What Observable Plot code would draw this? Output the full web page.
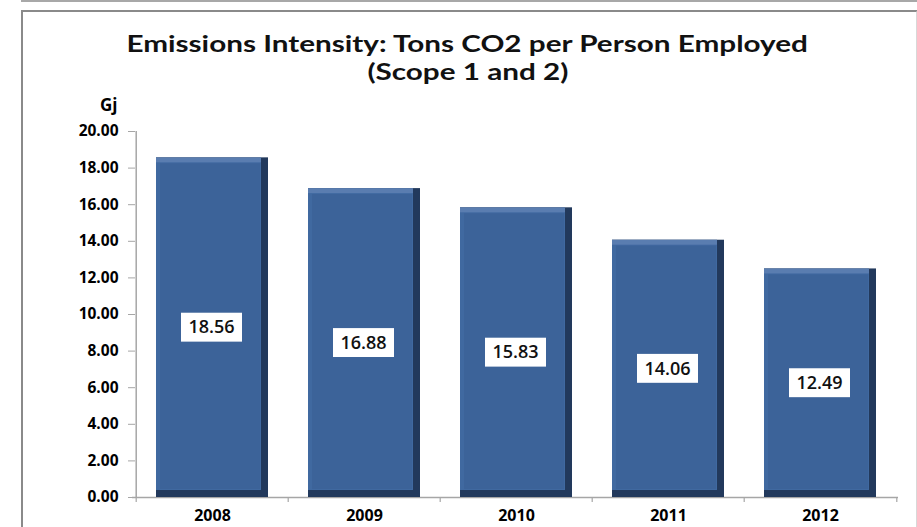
<!DOCTYPE html>
<html>
<head>
<meta charset="utf-8">
<script src="https://cdn.jsdelivr.net/npm/d3@7"></script>
<script src="https://cdn.jsdelivr.net/npm/@observablehq/plot@0.6"></script>
<style>
  html, body { margin: 0; padding: 0; background: #fff; }
  #wrap { position: relative; width: 917px; height: 527px; overflow: hidden; font-family: "Open Sans", Lato, sans-serif; color: #000; }
  #topline { position: absolute; left: 21px; right: 0; top: 0; height: 0; border-top: 2px solid #a8a8a8; }
  #frame { position: absolute; left: 21px; top: 10px; width: 893px; height: 600px; border: 2px solid #8a8a8a; border-right-color: #d8d8d8; }
  #title { position: relative; box-sizing: border-box; height: 88px; padding-top: 29px; padding-left: 18px; text-align: center; font-family: Lato, "Open Sans", sans-serif; font-size: 23px; line-height: 28px; font-weight: bold; color: #111; }
  #title span { display: inline-block; transform: scaleX(1.29); transform-origin: center; white-space: nowrap; }
  #chart { position: relative; }
</style>
</head>
<body>
<div id="wrap">
  <div id="topline"></div>
  <div id="frame"></div>
  <div id="title"><span>Emissions Intensity: Tons CO2 per Person Employed</span><br><span>(Scope 1 and 2)</span></div>
  <div id="chart"></div>
</div>
<script>
const years = ["2008", "2009", "2010", "2011", "2012"];
const values = [18.56, 16.88, 15.83, 14.06, 12.49];
const yTicks = [0, 2, 4, 6, 8, 10, 12, 14, 16, 18, 20];
const yUnit = "Gj";

const data = years.map((year, i) => ({year, value: values[i]}));

const W = 917, H = 439, ML = 135, MR = 19, MT = 43, MB = 30;
const step = (W - ML - MR) / years.length;
const axisGray = "#a6a6a6";
const font = "'Open Sans', Lato, sans-serif";

const plot = Plot.plot({
  width: W,
  height: H,
  marginLeft: ML,
  marginRight: MR,
  marginTop: MT,
  marginBottom: MB,
  style: { fontFamily: font, color: "#000", background: "transparent", overflow: "visible" },
  x: { type: "band", domain: years, paddingInner: 0.26, paddingOuter: 0.13 },
  y: { domain: [0, 20] },
  marks: [
    // axis lines
    Plot.ruleY([0], { stroke: axisGray, strokeWidth: 1.5, insetLeft: -3 }),
    Plot.ruleX([years[0]], { x: d => d, dx: -step / 2, y1: 0, y2: 20, stroke: axisGray, strokeWidth: 1.5 }),
    // category boundary ticks below x axis
    Plot.ruleX(years, { x: d => d, dx: -step / 2, y1: 0, y2: 0, insetBottom: -5, stroke: axisGray, strokeWidth: 1.2 }),
    Plot.ruleX([years[years.length - 1]], { x: d => d, dx: step / 2, y1: 0, y2: 0, insetBottom: -5, stroke: axisGray, strokeWidth: 1.2 }),
    Plot.axisY({
      ticks: yTicks, tickFormat: d => d.toFixed(2), tickSize: 7, tickPadding: 10,
      stroke: axisGray, fontSize: 15.5, fontWeight: "bold", label: null
    }),
    Plot.axisX({ tickSize: 0, tickPadding: 12, fontSize: 16, fontWeight: "bold", label: null }),
    Plot.text([yUnit], { frameAnchor: "top-left", dx: -18, dy: -33, textAnchor: "end", fontSize: 17, fontWeight: "bold" }),
    // bevelled bars
    Plot.barY(data, { x: "year", y: "value", fill: "#22395c" }),
    Plot.barY(data, { x: "year", y: "value", fill: "#5a7db0", insetRight: 7, insetBottom: 7 }),
    Plot.barY(data, { x: "year", y: "value", fill: "#4069a0", insetTop: 5, insetRight: 7, insetBottom: 7 }),
    Plot.barY(data, { x: "year", y: "value", fill: "#3c6399", insetTop: 6, insetLeft: 4, insetRight: 8, insetBottom: 8 }),
    // value label boxes
    Plot.barY(data, {
      x: "year", y1: d => d.value / 2 - 0.79, y2: d => d.value / 2 + 0.79,
      fill: "#fff", insetLeft: 25, insetRight: 26
    }),
    Plot.text(data, {
      x: "year", y: d => d.value / 2, text: d => d.value.toFixed(2),
      fontSize: 18, fontWeight: 600, fill: "#111", dx: -1
    })
  ]
});
document.getElementById("chart").appendChild(plot);
</script>
</body>
</html>
